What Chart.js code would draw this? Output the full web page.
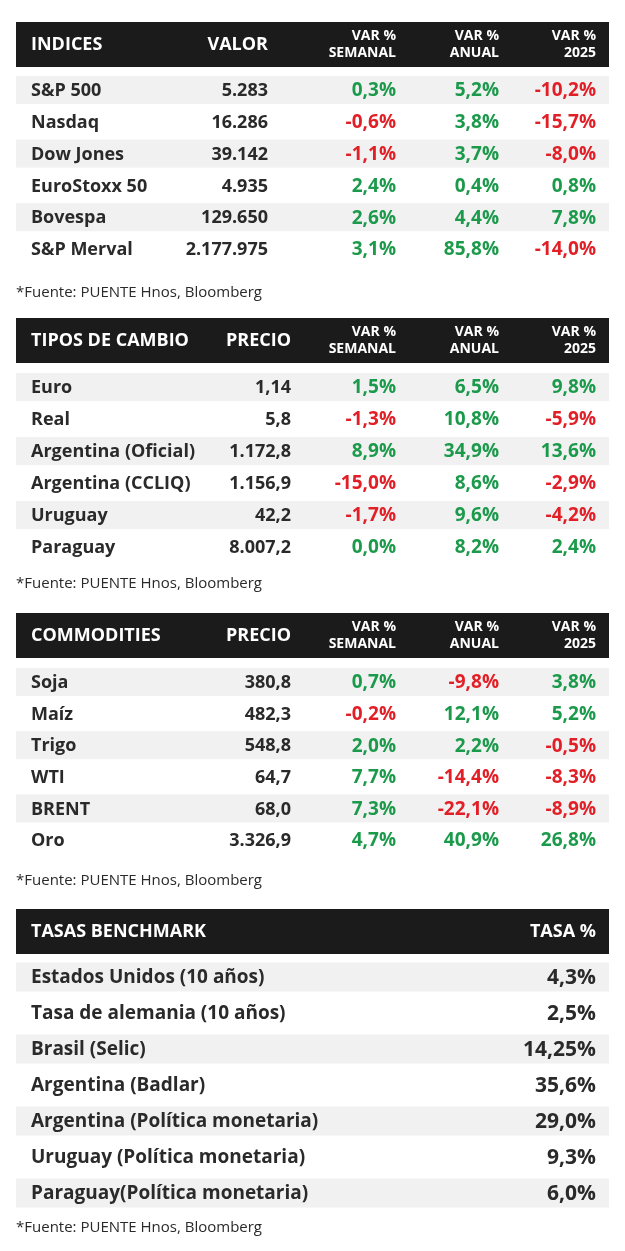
<!DOCTYPE html>
<html><head><meta charset="utf-8">
<script src="https://cdn.jsdelivr.net/npm/chart.js@4/dist/chart.umd.min.js"></script>
<style>html,body{margin:0;padding:0;background:#fff}canvas{display:block}</style>
</head><body>
<canvas id="c" width="625" height="1251"></canvas>
<script>
const fuente = "*Fuente: PUENTE Hnos, Bloomberg";
const idxNames = ["S&P 500","Nasdaq","Dow Jones","EuroStoxx 50","Bovespa","S&P Merval"];
const idxValor = ["5.283","16.286","39.142","4.935","129.650","2.177.975"];
const idxSem = [0.3,-0.6,-1.1,2.4,2.6,3.1];
const idxAnual = [5.2,3.8,3.7,0.4,4.4,85.8];
const idx2025 = [-10.2,-15.7,-8.0,0.8,7.8,-14.0];
const fxNames = ["Euro","Real","Argentina (Oficial)","Argentina (CCLIQ)","Uruguay","Paraguay"];
const fxPrecio = ["1,14","5,8","1.172,8","1.156,9","42,2","8.007,2"];
const fxSem = [1.5,-1.3,8.9,-15.0,-1.7,0.0];
const fxAnual = [6.5,10.8,34.9,8.6,9.6,8.2];
const fx2025 = [9.8,-5.9,13.6,-2.9,-4.2,2.4];
const comNames = ["Soja","Maíz","Trigo","WTI","BRENT","Oro"];
const comPrecio = ["380,8","482,3","548,8","64,7","68,0","3.326,9"];
const comSem = [0.7,-0.2,2.0,7.7,7.3,4.7];
const comAnual = [-9.8,12.1,2.2,-14.4,-22.1,40.9];
const com2025 = [3.8,5.2,-0.5,-8.3,-8.9,26.8];
const tasNames = ["Estados Unidos (10 años)","Tasa de alemania (10 años)","Brasil (Selic)","Argentina (Badlar)","Argentina (Política monetaria)","Uruguay (Política monetaria)","Paraguay(Política monetaria)"];
const tasVal = ["4,3%","2,5%","14,25%","35,6%","29,0%","9,3%","6,0%"];

const fmt = v => v.toFixed(1).replace('.',',')+'%';
const GREEN="#1c9a4b", RED="#e21f26", DARK="#2a2a2a";
const F = "'Open Sans', sans-serif";

const tables = [
 {top:22, rowY:91, step:31.8, valX:268, title:"INDICES", valH:"VALOR", names:idxNames, vals:idxValor, cols:[idxSem,idxAnual,idx2025], foot:293},
 {top:318, rowY:388, step:32, valX:291, title:"TIPOS DE CAMBIO", valH:"PRECIO", names:fxNames, vals:fxPrecio, cols:[fxSem,fxAnual,fx2025], foot:584},
 {top:613, rowY:683, step:31.6, valX:291, title:"COMMODITIES", valH:"PRECIO", names:comNames, vals:comPrecio, cols:[comSem,comAnual,com2025], foot:881}
];
const colX=[396,499,596];
const colH=["SEMANAL","ANUAL","2025"];

const tablePlugin = {
 id:'tbl',
 afterDraw(chart){
  const ctx=chart.ctx, xs=chart.scales.x, ys=chart.scales.y;
  const X=v=>xs.getPixelForValue(v), Y=v=>ys.getPixelForValue(v);
  const L=X(16), R=X(609);
  ctx.save();
  ctx.textBaseline='middle';
  const header=(top,title,extra)=>{
    ctx.fillStyle='#1b1b1b'; ctx.fillRect(L,Y(top),R-L,Y(top+45)-Y(top));
    ctx.fillStyle='#fff'; ctx.font="bold 18px "+F; ctx.textAlign='left';
    ctx.fillText(title,X(31),Y(top+23)); extra();
  };
  const shade=(y,h)=>{ctx.fillStyle='#f1f1f1'; ctx.fillRect(L,Y(y-h/2),R-L,Y(y+h/2)-Y(y-h/2));};
  tables.forEach(t=>{
    header(t.top,t.title,()=>{
      ctx.textAlign='right'; ctx.font="bold 18px "+F;
      ctx.fillText(t.valH,X(t.valX),Y(t.top+23));
      ctx.font="bold 14px "+F;
      colX.forEach((cx,i)=>{ctx.fillText("VAR %",X(cx),Y(t.top+14));ctx.fillText(colH[i],X(cx),Y(t.top+31));});
    });
    t.names.forEach((n,i)=>{
      const y=t.rowY+i*t.step;
      if(i%2===0) shade(y-1,28);
      ctx.font="bold 18px "+F; ctx.fillStyle=DARK; ctx.textAlign='left';
      ctx.fillText(n,X(31),Y(y));
      ctx.textAlign='right'; ctx.fillText(t.vals[i],X(t.valX),Y(y));
      ctx.font="bold 19px "+F;
      t.cols.forEach((c,j)=>{ctx.fillStyle=c[i]<0?RED:GREEN; ctx.fillText(fmt(c[i]),X(colX[j]),Y(y));});
    });
    ctx.font="15px "+F; ctx.fillStyle=DARK; ctx.textAlign='left';
    ctx.fillText(fuente,X(16),Y(t.foot));
  });
  header(909,"TASAS BENCHMARK",()=>{ctx.textAlign='right';ctx.fillText("TASA %",X(596),Y(932));});
  tasNames.forEach((n,i)=>{
    const y=978+i*36;
    if(i%2===0) shade(y-1,29);
    ctx.font="bold 19px "+F; ctx.fillStyle=DARK; ctx.textAlign='left';
    ctx.fillText(n,X(31),Y(y));
    ctx.font="bold 21px "+F; ctx.textAlign='right'; ctx.fillText(tasVal[i],X(596),Y(y));
  });
  ctx.font="15px "+F; ctx.fillStyle=DARK; ctx.textAlign='left';
  ctx.fillText(fuente,X(16),Y(1228));
  ctx.restore();
 }
};

new Chart(document.getElementById('c'),{
 type:'scatter',
 data:{datasets:[{data:[],pointRadius:0}]},
 options:{responsive:false,animation:false,layout:{padding:0},
  plugins:{legend:{display:false},tooltip:{enabled:false}},
  scales:{x:{type:'linear',min:0,max:625,display:false},y:{type:'linear',min:0,max:1251,reverse:true,display:false}}},
 plugins:[tablePlugin]
});
</script>
</body></html>
